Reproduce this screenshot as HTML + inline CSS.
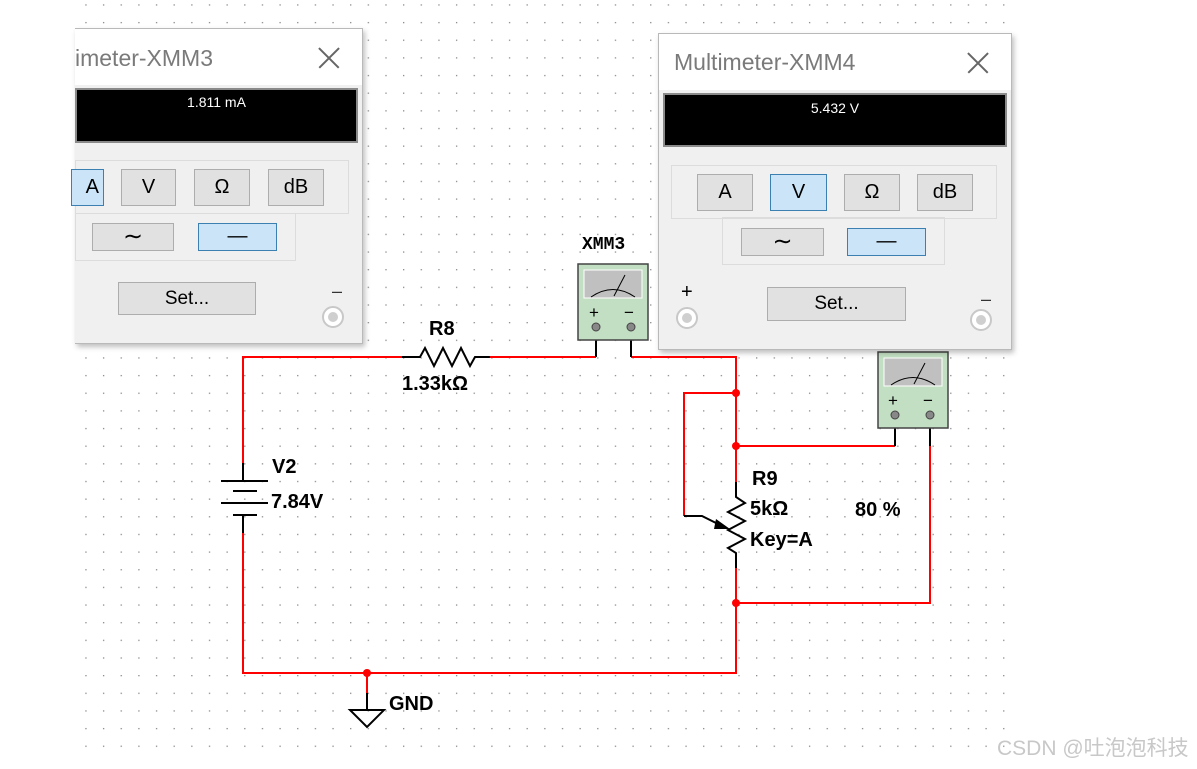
<!DOCTYPE html>
<html><head><meta charset="utf-8"><style>
body{margin:0;width:1197px;height:769px;background:#fff;position:relative;overflow:hidden;font-family:"Liberation Sans",sans-serif}
.win{position:absolute;background:#f0f0f0;border:1px solid #b9b9b9;box-shadow:2px 3px 5px rgba(0,0,0,.25)}
.ab{position:absolute;box-sizing:border-box}
.title{background:#fff;color:#7a7a7a;font-size:23px}
.disp{background:#000;border:2px solid #8a8a8a;color:#fff;font-size:14px;text-align:center}
.grp{border:1px solid #dcdcdc}
.btn{background:#e1e1e1;border:1px solid #adadad;text-align:center;font-size:20px;color:#000}
.sel{background:#cce4f7;border:1px solid #3c7fb1}
.term{width:22px;height:22px;border-radius:50%;background:#fff;border:2px solid #c8c8c8}
.term::after{content:"";position:absolute;left:4px;top:4px;width:10px;height:10px;border-radius:50%;background:#cfcfcf}
.x{position:absolute;width:22px;height:22px}
.x::before,.x::after{content:"";position:absolute;left:-3px;top:10px;width:28px;height:1.5px;background:#666;transform:rotate(45deg)}
.x::after{transform:rotate(-45deg)}
</style></head><body>
<svg width="1197" height="769" style="position:absolute;left:0;top:0">
<defs><pattern id="g" x="85.3" y="4.3" width="17.65" height="17.65" patternUnits="userSpaceOnUse"><rect x="0" y="0" width="1.3" height="1.3" fill="#8a8a8a"/></pattern></defs>
<rect x="80" y="0" width="928" height="752" fill="url(#g)"/>
<g fill="none" stroke-width="2">
<g stroke="#ff0000">
<polyline points="243,463 243,357 402,357"/>
<polyline points="490,357 596,357"/>
<polyline points="631,357 736,357 736,482"/>
<polyline points="243,533 243,673 736,673 736,568"/>
<polyline points="736,393 684,393 684,516"/>
<polyline points="736,446 895,446"/>
<polyline points="930,446 930,603 736,603"/>
<polyline points="367,673 367,693"/>
</g>
<g stroke="#000">
<polyline points="402,357 420,357 425,348 434,366 443,348 452,366 461,348 470,366 475,357 490,357"/>
<line x1="596" y1="327" x2="596" y2="357"/><line x1="631" y1="327" x2="631" y2="357"/>
<line x1="895" y1="415" x2="895" y2="446"/><line x1="930" y1="415" x2="930" y2="446"/>
<polyline points="736,482 736,497 745,503 728,512 745,521 728,530 745,539 728,548 736,553 736,568"/>
<polyline points="684,516 702,516 726,528"/>
<line x1="243" y1="463" x2="243" y2="481"/><line x1="221" y1="481" x2="268" y2="481"/>
<line x1="233" y1="491" x2="257" y2="491"/><line x1="221" y1="503" x2="268" y2="503"/>
<line x1="233" y1="515" x2="257" y2="515"/><line x1="243" y1="515" x2="243" y2="533"/>
<line x1="367" y1="693" x2="367" y2="710"/>
<polygon points="350,710 384,710 367,727"/>
</g>
</g>
<polygon points="716,519 730,529 714,529" fill="#000"/>
<g fill="#ff0000"><circle cx="736" cy="393" r="4"/><circle cx="736" cy="446" r="4"/><circle cx="736" cy="603" r="4"/><circle cx="367" cy="673" r="4"/></g>
<g>
<rect x="578" y="264" width="70" height="76" fill="#c3dfc3" stroke="#444" stroke-width="1.5"/>
<rect x="584" y="270" width="58" height="28" fill="#c0c0c0" stroke="#fff"/>
<path d="M591,297 Q613,282 635,297" fill="none" stroke="#000"/><line x1="614" y1="296" x2="625" y2="275" stroke="#000"/>
<text x="589" y="318" font-size="17">+</text><text x="624" y="318" font-size="17">−</text>
<circle cx="596" cy="327" r="4" fill="#888" stroke="#444"/><circle cx="631" cy="327" r="4" fill="#888" stroke="#444"/>
<rect x="878" y="352" width="70" height="76" fill="#c3dfc3" stroke="#444" stroke-width="1.5"/>
<rect x="884" y="358" width="58" height="28" fill="#c0c0c0" stroke="#fff"/>
<path d="M891,385 Q913,370 935,385" fill="none" stroke="#000"/><line x1="914" y1="384" x2="925" y2="363" stroke="#000"/>
<text x="888" y="406" font-size="17">+</text><text x="923" y="406" font-size="17">−</text>
<circle cx="895" cy="415" r="4" fill="#888" stroke="#444"/><circle cx="930" cy="415" r="4" fill="#888" stroke="#444"/>
</g>
<g font-weight="bold" font-size="20" fill="#000">
<text x="272" y="473">V2</text><text x="271" y="508">7.84V</text>
<text x="429" y="335">R8</text><text x="402" y="390">1.33kΩ</text>
<text x="752" y="485">R9</text><text x="750" y="515">5kΩ</text><text x="750" y="546">Key=A</text>
<text x="855" y="516">80 %</text><text x="389" y="710">GND</text>
<text x="582" y="249" font-family="Liberation Mono" font-size="18">XMM3</text>
</g>
<text x="997" y="755" font-size="21" fill="#c8c8c8" font-family="Liberation Sans, Noto Sans CJK SC, sans-serif">CSDN @吐泡泡科技</text>
</svg>

<div class="win" style="left:75px;top:28px;width:287px;height:314px;border-left:none">
 <div class="ab title" style="left:0;top:0;width:287px;height:56px;padding:16px 0 0 0">imeter-XMM3</div>
 <div class="x" style="left:243px;top:18px"></div>
 <div class="ab disp" style="left:0;top:59px;width:283px;height:55px;padding-top:4px">1.811 mA</div>
 <div class="ab grp" style="left:0;top:131px;width:274px;height:54px"></div>
 <div class="ab btn sel" style="left:-4px;top:140px;width:33px;height:37px;line-height:35px;text-align:right;padding-right:4px">A</div>
 <div class="ab btn" style="left:46px;top:140px;width:55px;height:37px;line-height:35px">V</div>
 <div class="ab btn" style="left:119px;top:140px;width:56px;height:37px;line-height:35px">Ω</div>
 <div class="ab btn" style="left:193px;top:140px;width:56px;height:37px;line-height:35px">dB</div>
 <div class="ab grp" style="left:0;top:184px;width:221px;height:48px"></div>
 <div class="ab btn" style="left:17px;top:194px;width:82px;height:28px;line-height:26px;font-size:24px">∼</div>
 <div class="ab btn sel" style="left:123px;top:194px;width:79px;height:28px;line-height:24px">—</div>
 <div class="ab btn" style="left:43px;top:253px;width:138px;height:33px;line-height:31px;font-size:19px">Set...</div>
 <div class="ab" style="left:257px;top:252px;font-size:18px;color:#333">–</div>
 <div class="ab term" style="left:247px;top:277px"></div>
</div>

<div class="win" style="left:658px;top:33px;width:352px;height:315px">
 <div class="ab title" style="left:0;top:0;width:352px;height:56px;padding:15px 0 0 15px">Multimeter-XMM4</div>
 <div class="x" style="left:308px;top:18px"></div>
 <div class="ab disp" style="left:4px;top:59px;width:344px;height:54px;padding-top:5px">5.432 V</div>
 <div class="ab grp" style="left:12px;top:131px;width:326px;height:54px"></div>
 <div class="ab btn" style="left:38px;top:140px;width:56px;height:37px;line-height:35px">A</div>
 <div class="ab btn sel" style="left:111px;top:140px;width:57px;height:37px;line-height:35px">V</div>
 <div class="ab btn" style="left:185px;top:140px;width:56px;height:37px;line-height:35px">Ω</div>
 <div class="ab btn" style="left:258px;top:140px;width:56px;height:37px;line-height:35px">dB</div>
 <div class="ab grp" style="left:63px;top:183px;width:223px;height:48px"></div>
 <div class="ab btn" style="left:82px;top:194px;width:83px;height:28px;line-height:26px;font-size:24px">∼</div>
 <div class="ab btn sel" style="left:188px;top:194px;width:79px;height:28px;line-height:24px">—</div>
 <div class="ab" style="left:22px;top:247px;font-size:20px">+</div>
 <div class="ab term" style="left:17px;top:273px"></div>
 <div class="ab btn" style="left:108px;top:253px;width:139px;height:34px;line-height:32px;font-size:19px">Set...</div>
 <div class="ab" style="left:322px;top:255px;font-size:18px;color:#333">–</div>
 <div class="ab term" style="left:311px;top:275px"></div>
</div>
</body></html>
